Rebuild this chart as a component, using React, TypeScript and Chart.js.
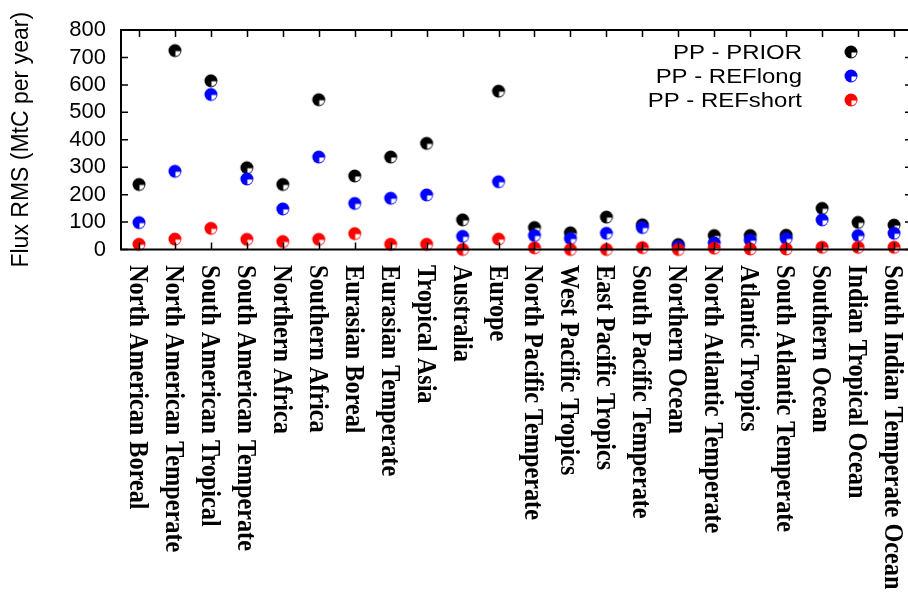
import React, { useEffect, useRef } from "react";
import { Chart, registerables } from "chart.js";

Chart.register(...registerables);

const categories = [
  "North American Boreal",
  "North American Temperate",
  "South American Tropical",
  "South American Temperate",
  "Northern Africa",
  "Southern Africa",
  "Eurasian Boreal",
  "Eurasian Temperate",
  "Tropical Asia",
  "Australia",
  "Europe",
  "North Pacific Temperate",
  "West Pacific Tropics",
  "East Pacific Tropics",
  "South Pacific Temperate",
  "Northern Ocean",
  "North Atlantic Temperate",
  "Atlantic Tropics",
  "South Atlantic Temperate",
  "Southern Ocean",
  "Indian Tropical Ocean",
  "South Indian Temperate Ocean",
];

const priorValues = [237, 725, 615, 298, 237, 546, 268, 337, 387, 108, 577, 80, 61, 118, 90, 18, 51, 51, 52, 150, 99, 89];
const refLongValues = [98, 285, 565, 257, 148, 337, 168, 187, 199, 48, 247, 51, 40, 59, 80, 11, 24, 34, 40, 108, 51, 59];
const refShortValues = [19, 38, 77, 37, 29, 37, 58, 19, 19, 0, 38, 6, 0, 0, 7, 0, 5, 2, 2, 8, 8, 8];

const seriesLabels = ["PP - PRIOR", "PP - REFlong", "PP - REFshort"];
const seriesColors = ["#000000", "#0000ff", "#ff0000"];
const yTickValues = [0, 100, 200, 300, 400, 500, 600, 700, 800];
const yTitle = "Flux RMS (MtC per year)";

const SANS = "'Liberation Sans', Arial, Helvetica, sans-serif";
const SERIF = "'Liberation Serif', 'Times New Roman', Times, serif";

function makeMarker(color: string): HTMLCanvasElement {
  const c = document.createElement("canvas");
  c.width = 16;
  c.height = 16;
  const g = c.getContext("2d")!;
  g.fillStyle = color;
  g.beginPath();
  g.arc(8, 8, 6.5, 0, Math.PI * 2);
  g.fill();
  g.fillStyle = "#ffffff";
  g.beginPath();
  g.moveTo(8.5, 8.5);
  g.arc(8.5, 8.5, 5, 0, Math.PI / 2);
  g.closePath();
  g.fill();
  return c;
}

const framePlugin = {
  id: "gnuFrame",
  afterDatasetsDraw(chart: any) {
    const { ctx, chartArea } = chart;
    const { left, right, top, bottom } = chartArea;
    const xs = chart.scales.x;
    const ys = chart.scales.y;
    ctx.save();
    ctx.strokeStyle = "#000";
    ctx.lineWidth = 1.5;
    ctx.beginPath();
    for (let i = 0; i < categories.length; i++) {
      const px = Math.round(xs.getPixelForValue(i)) + 0.5;
      ctx.moveTo(px, top);
      ctx.lineTo(px, top + 7);
      ctx.moveTo(px, bottom);
      ctx.lineTo(px, bottom - 7);
    }
    for (const v of yTickValues) {
      const py = ys.getPixelForValue(v);
      ctx.moveTo(left, py);
      ctx.lineTo(left + 7, py);
      ctx.moveTo(right, py);
      ctx.lineTo(right - 7, py);
    }
    ctx.stroke();
    ctx.lineWidth = 2;
    ctx.strokeRect(left, top, right - left, bottom - top);
    ctx.restore();
  },
  afterDraw(chart: any) {
    const { ctx, chartArea } = chart;
    const xs = chart.scales.x;
    ctx.save();
    ctx.fillStyle = "#000";
    ctx.font = `bold 24px ${SERIF}`;
    ctx.textAlign = "left";
    ctx.textBaseline = "alphabetic";
    categories.forEach((lab, i) => {
      const px = xs.getPixelForValue(i);
      ctx.save();
      ctx.translate(px - 9, chartArea.bottom + 15.5);
      ctx.rotate(Math.PI / 2);
      ctx.scale(1.01, 1.1);
      ctx.fillText(lab, 0, 0);
      ctx.restore();
    });
    ctx.font = `21px ${SANS}`;
    ctx.textAlign = "right";
    ctx.textBaseline = "middle";
    chart.data.datasets.forEach((ds: any, i: number) => {
      const ly = 52 + i * 24;
      ctx.save();
      ctx.translate(802, ly);
      ctx.scale(1.14, 1);
      ctx.fillText(ds.label, 0, 1);
      ctx.restore();
      const m = ds.pointStyle as HTMLCanvasElement;
      ctx.drawImage(m, 851 - m.width / 2, ly - m.height / 2);
    });
    ctx.restore();
  },
};

export default function App() {
  const ref = useRef<HTMLCanvasElement | null>(null);
  useEffect(() => {
    if (!ref.current) return;
    const seriesValues = [priorValues, refLongValues, refShortValues];
    const chart = new Chart(ref.current, {
      type: "line",
      data: {
        labels: categories,
        datasets: seriesValues.map((vals, i) => ({
          label: seriesLabels[i],
          data: vals,
          showLine: false,
          pointStyle: makeMarker(seriesColors[i]) as any,
          pointRadius: 7,
          borderColor: seriesColors[i],
          backgroundColor: seriesColors[i],
          clip: false as any,
          order: 3 - i,
        })),
      },
      options: {
        responsive: false,
        animation: false,
        events: [],
        layout: { padding: { left: 0, top: 30, right: 6, bottom: 346.5 } },
        plugins: { legend: { display: false }, tooltip: { enabled: false } },
        scales: {
          x: {
            type: "category",
            offset: true,
            ticks: { display: false },
            grid: { display: false, drawTicks: false },
            border: { display: false },
          },
          y: {
            min: 0,
            max: 800,
            afterBuildTicks: (s: any) => {
              s.ticks = yTickValues.map((v) => ({ value: v }));
            },
            afterFit: (s: any) => {
              s.width = 121;
            },
            ticks: {
              autoSkip: false,
              padding: 15,
              color: "#000",
              font: { family: SANS, size: 22 },
              callback: (v: any) => String(v),
            },
            grid: { display: false, drawTicks: false },
            border: { display: false },
            title: {
              display: true,
              text: yTitle,
              color: "#000",
              font: { family: SANS, size: 23 },
              padding: { top: 8, bottom: 0 },
            },
          },
        },
      },
      plugins: [framePlugin],
    } as any);
    return () => chart.destroy();
  }, []);
  return (
    <div style={{ position: "fixed", left: 0, top: 0, width: 908, height: 596, overflow: "hidden", background: "#fff" }}>
      <canvas ref={ref} width={920} height={596} style={{ display: "block" }} />
    </div>
  );
}
